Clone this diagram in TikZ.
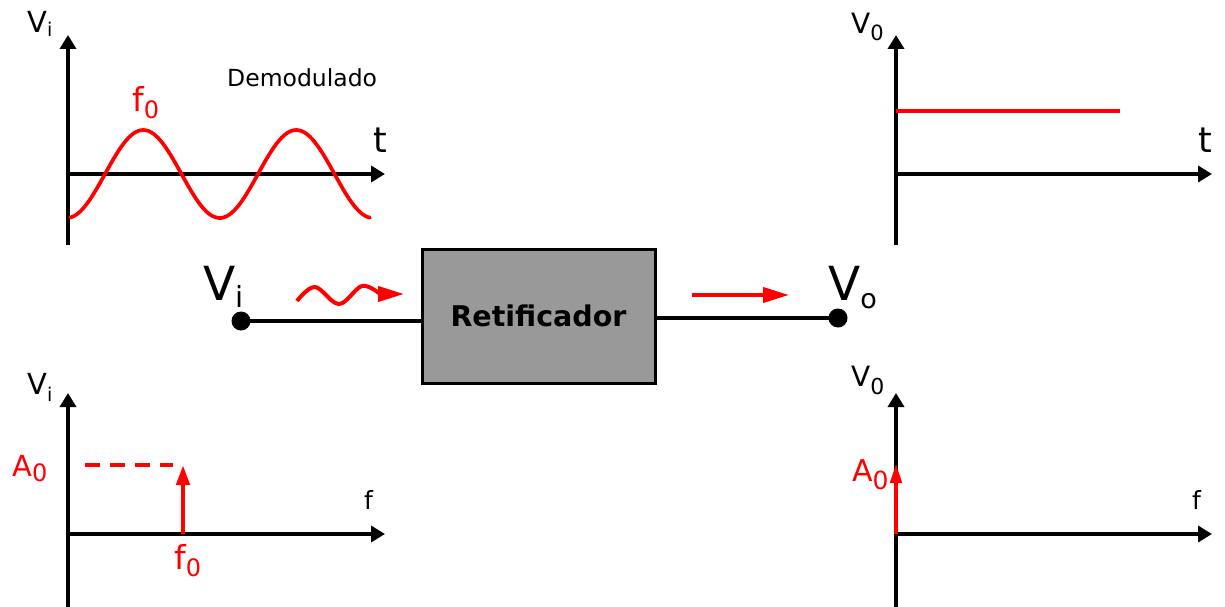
\documentclass[tikz,border=0pt]{standalone}
\usepackage{fontspec}
\setmainfont{DejaVu Sans}
\usetikzlibrary{arrows.meta}
\newcommand\fs[1]{\fontsize{#1}{#1}\selectfont}
\newcommand\subsc[3]{\raisebox{-#1}{\fs{#2}#3}}
\begin{document}
\begin{tikzpicture}[x=1pt,y=-1pt,
  axis/.style={line width=3.5pt,-{Triangle[width=16pt,length=14pt]}},
  redline/.style={red,line width=3.7pt},
  redarrow/.style={red,line width=4pt,-{Triangle[width=15pt,length=26pt]}},
  specarrow/.style={red,line width=4.5pt,-{Triangle[width=13pt,length=20pt]}},
  lbl/.style={inner sep=0pt,anchor=base west},
  dot/.style={circle,fill=black,inner sep=0pt,minimum size=19pt},
  wire/.style={line width=3.5pt},
  blockbox/.style={draw=black,line width=3pt,fill=black!40,minimum width=233pt,minimum height=134pt,inner sep=0pt,font=\fs{28.5}\bfseries}
]
\useasboundingbox (0,0) rectangle (1225,607);

% ---------- top-left: V_i(t) ----------
\coordinate (tlO) at (68,174);
\coordinate (tlB) at (68,245);
\coordinate (tlY) at (68,35);
\coordinate (tlX) at (385,174);
\draw[axis] (tlB) -- (tlY);
\draw[axis] (tlO) -- (tlX);
\draw[redline,line cap=round] plot[domain=70:370,samples=120] (\x,{174-44*sin(2.35294*(\x-105))});
\node[lbl] (tlVi) at (27,33) {\fs{29}V\subsc{4pt}{19}{i}};
\node[lbl,red] (tlf0) at (132,111) {\fs{33}f\subsc{8pt}{24}{0}};
\node[lbl] (tlt) at (373,152) {\fs{35}t};
\node[lbl] (demod) at (227,87) {\fs{23.5}Demodulado};

% ---------- top-right: V_0(t) ----------
\coordinate (trO) at (896,174);
\coordinate (trB) at (896,245);
\coordinate (trY) at (896,35);
\coordinate (trX) at (1212,174);
\coordinate (dcA) at (896,111);
\coordinate (dcB) at (1120,111);
\draw[axis] (trB) -- (trY);
\draw[axis] (trO) -- (trX);
\draw[redline] (dcA) -- (dcB);
\node[lbl] (trV0) at (851,34) {\fs{28}V\subsc{7pt}{21}{0}};
\node[lbl] (trt) at (1198,152) {\fs{35}t};

% ---------- centre: block ----------
\node[blockbox] (rect) at (538.5,316) {Retificador};
\node[dot] (dotI) at (241,321) {};
\node[dot] (dotO) at (838,318) {};
\draw[wire] (dotI.center) -- (dotI.center -| rect.west);
\draw[wire] (dotO.center -| rect.east) -- (dotO.center);
\node[lbl] (cVi) at (203,300) {\fs{47}V\subsc{7pt}{29}{i}};
\node[lbl] (cVo) at (828,300) {\fs{47}V\subsc{8pt}{27}{o}};
\coordinate (wv0) at (297,300);
\coordinate (wvE) at (404,294);
\draw[redarrow] plot[smooth,tension=0.6] coordinates {(297,301) (315,287) (339,304) (362,286) (380,294)} -- (wvE);
\coordinate (sa0) at (692,295);
\coordinate (saE) at (789,295);
\draw[redarrow] (sa0) -- (saE);

% ---------- bottom-left: V_i(f) ----------
\coordinate (blO) at (68,534);
\coordinate (blB) at (68,607);
\coordinate (blY) at (68,393);
\coordinate (blX) at (385,534);
\coordinate (blS0) at (183,534);
\coordinate (blS1) at (183,465);
\coordinate (blD0) at (85,465);
\coordinate (blD1) at (173,465);
\draw[axis] (blB) -- (blY);
\draw[axis] (blO) -- (blX);
\draw[red,line width=3.5pt,dash pattern=on 15pt off 10pt] (blD0) -- (blD1);
\draw[specarrow] (blS0) -- (blS1);
\node[lbl] (blVi) at (27,394) {\fs{29}V\subsc{7pt}{19}{i}};
\node[lbl,red] (blA0) at (12,476) {\fs{29}A\subsc{5pt}{24}{0}};
\node[lbl] (blf) at (364,509) {\fs{25}f};
\node[lbl,red] (blf0) at (174,569) {\fs{33}f\subsc{7pt}{24}{0}};

% ---------- bottom-right: V_0(f) ----------
\coordinate (brO) at (896,534);
\coordinate (brB) at (896,607);
\coordinate (brY) at (896,393);
\coordinate (brX) at (1212,534);
\coordinate (brS1) at (896,463);
\draw[axis] (brB) -- (brY);
\draw[axis] (brO) -- (brX);
\draw[red,line width=4.5pt,-{Triangle[width=11pt,length=20pt]}] (brO) -- (brS1);
\node[lbl] (brV0) at (851,386) {\fs{28}V\subsc{8pt}{22}{0}};
\node[lbl,red] (brA0) at (852,481) {\fs{30}A\subsc{8pt}{25}{0}};
\node[lbl] (brf) at (1192,509) {\fs{25}f};
\end{tikzpicture}
\end{document}
